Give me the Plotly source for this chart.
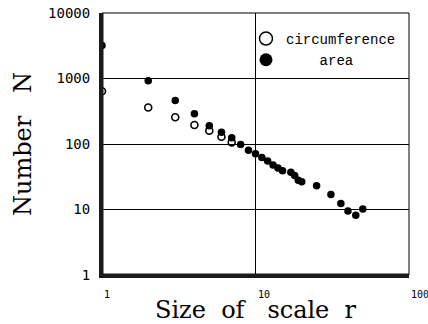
import math
import plotly.graph_objects as go

# Data
r_circ = [1, 2, 3, 4, 5, 6, 7]
n_circ = [640, 360, 256, 195, 160, 129, 106]

r_area = [1, 2, 3, 4, 5, 6, 7, 8, 9, 10, 11, 12, 13, 14, 15, 17, 18, 19, 20,
          25, 31, 36, 40, 45, 50]
n_area = [3200, 920, 460, 290, 190, 151, 125, 98, 80, 71, 62, 55, 48, 43, 39,
          37, 33, 28, 26.5, 23, 17, 12.4, 9.5, 8.2, 10.2]

x_ticks = [1, 10, 100]
y_ticks = [1, 10, 100, 1000, 10000]

AXIS_COLOR = "#1a1a1a"

fig = go.Figure()

fig.add_trace(go.Scatter(
    x=r_circ, y=n_circ, mode="markers", showlegend=False,
    marker=dict(symbol="circle-open", size=7, color="black",
                line=dict(width=1.6, color="black")),
))
fig.add_trace(go.Scatter(
    x=r_area, y=n_area, mode="markers", showlegend=False,
    marker=dict(symbol="circle", size=7.5, color="black"),
))
# legend-only entries (larger symbols as in the reference)
fig.add_trace(go.Scatter(
    x=[None], y=[None], mode="markers", name="circumference",
    marker=dict(symbol="circle", size=13, color="white",
                line=dict(width=1.5, color="black")),
))
fig.add_trace(go.Scatter(
    x=[None], y=[None], mode="markers", name="\u00a0\u00a0\u00a0\u00a0area",
    marker=dict(symbol="circle", size=13, color="black"),
))

fig.update_layout(
    width=428, height=324,
    margin=dict(l=102, r=19, t=13, b=49),
    paper_bgcolor="white", plot_bgcolor="white",
    font=dict(family="DejaVu Sans Mono", color="black"),
    legend=dict(x=0.469, y=0.962, xanchor="left", yanchor="top",
                bgcolor="rgba(0,0,0,0)", borderwidth=0,
                font=dict(family="Liberation Mono", size=14),
                tracegroupgap=0, itemsizing="trace"),
)

fig.update_xaxes(
    type="log", range=[0, 2],
    tickvals=x_ticks, showticklabels=False,
    showgrid=True, gridcolor="black", gridwidth=1,
    showline=True, linecolor=AXIS_COLOR, linewidth=3, mirror=False,
    ticks="", zeroline=False, automargin=False,
    title=dict(text="Size\u00a0\u00a0of\u00a0\u00a0\u00a0scale\u00a0\u00a0r",
               font=dict(family="DejaVu Serif", size=24), standoff=25),
)
fig.update_yaxes(
    type="log", range=[0, 4],
    tickvals=y_ticks, ticktext=[str(v) for v in y_ticks],
    tickfont=dict(family="DejaVu Sans Mono", size=14),
    showgrid=True, gridcolor="black", gridwidth=1,
    showline=True, linecolor=AXIS_COLOR, linewidth=3, mirror=False,
    ticks="outside", ticklen=6, tickcolor="rgba(0,0,0,0)",
    zeroline=False, automargin=False,
    title=dict(text="Number\u00a0\u00a0 N",
               font=dict(family="DejaVu Serif", size=24), standoff=10),
)

# x tick labels, left-aligned just right of each tick (as in the reference)
for v in x_ticks:
    fig.add_annotation(x=math.log10(v), y=0, xref="x", yref="paper",
                       text=str(v), showarrow=False, xanchor="left", yanchor="top",
                       xshift=0, yshift=-12,
                       font=dict(family="DejaVu Sans Mono", size=10, color="black"))

# frame lines: thin top / right, thick left / bottom (dark grey)
fig.add_shape(type="line", xref="paper", yref="paper", x0=0, x1=1, y0=1, y1=1,
              line=dict(color="black", width=1))
fig.add_shape(type="line", xref="paper", yref="paper", x0=1, x1=1, y0=0, y1=1,
              line=dict(color="black", width=1))
fig.add_shape(type="line", xref="paper", yref="paper", x0=0, x1=0, y0=-0.005, y1=1,
              line=dict(color=AXIS_COLOR, width=3))
fig.add_shape(type="line", xref="paper", yref="paper", x0=-0.004, x1=1, y0=0, y1=0,
              line=dict(color=AXIS_COLOR, width=3))

fig.write_html("out.html")
